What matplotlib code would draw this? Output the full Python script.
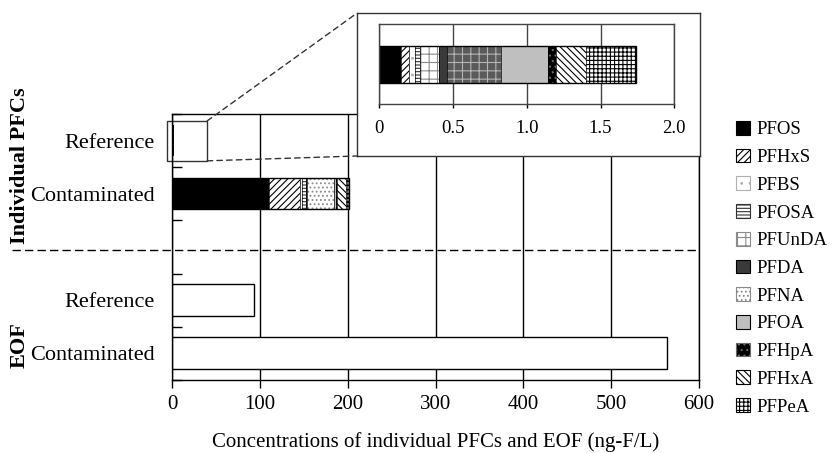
import matplotlib.pyplot as plt
import matplotlib.patches as mpatches
import matplotlib.transforms as mtransforms
from matplotlib.patches import ConnectionPatch, Rectangle

plt.rcParams['font.family'] = ['Liberation Serif', 'DejaVu Serif']
plt.rcParams['hatch.linewidth'] = 0.8

# data
compounds = ['PFOS', 'PFHxS', 'PFBS', 'PFOSA', 'PFUnDA', 'PFDA',
             'PFNA', 'PFOA', 'PFHpA', 'PFHxA', 'PFPeA']
pfc_reference = [0.149, 0.050, 0.045, 0.034, 0.129, 0.052,
                 0.367, 0.317, 0.057, 0.201, 0.338]
pfc_contaminated = [110.3, 35.0, 1.9, 4.6, 0.6, 0.5,
                    31.1, 2.3, 1.5, 10.5, 3.0]
eof_values = [93, 563]
row_labels = ['Reference', 'Contaminated', '', 'Reference', 'Contaminated']
group_labels = ['Individual PFCs', 'EOF']
main_ticks = [0, 100, 200, 300, 400, 500, 600]
inset_ticks = [0, 0.5, 1.0, 1.5, 2.0]
inset_ticklabels = ['0', '0.5', '1.0', '1.5', '2.0']
xlabel = 'Concentrations of individual PFCs and EOF (ng-F/L)'

# face colour, hatch, hatch colour
styles = {
    'PFOS': ('black', '', 'black'),
    'PFHxS': ('white', '/////', 'black'),
    'PFBS': ('white', '..', '#b0b0b0'),
    'PFOSA': ('white', '-----', '#333333'),
    'PFUnDA': ('white', '++', '#8a8a8a'),
    'PFDA': ('#3a3a3a', '', 'black'),
    'PFNA': ('white', '....', '#8a8a8a'),
    'PFOA': ('#bfbfbf', '', 'black'),
    'PFHpA': ('black', '...', '#6a6a6a'),
    'PFHxA': ('white', '\\\\\\\\\\', 'black'),
    'PFPeA': ('white', '++++', 'black'),
}
# the small inset renders PFNA as a darker plaid
inset_styles = dict(styles, PFNA=('#5a5a5a', '++', '#b5b5b5'))

HAS_HC = hasattr(mpatches.Patch, 'set_hatchcolor')


def stacked_bar(ax, y, values, height, style, seg_lw=0.5, outline_lw=1.0):
    left = 0
    for name, v in zip(compounds, values):
        face, hatch, hc = style[name]
        if HAS_HC:
            ax.barh(y, v, height, left=left, color=face, hatch=hatch,
                    edgecolor='black', hatchcolor=hc, linewidth=seg_lw)
        else:
            ax.barh(y, v, height, left=left, color=face, hatch=hatch,
                    edgecolor=hc, linewidth=0)
            ax.barh(y, v, height, left=left, fill=False,
                    edgecolor='black', linewidth=seg_lw)
        left += v
    if outline_lw > 0:
        ax.barh(y, left, height, fill=False, edgecolor='black',
                linewidth=outline_lw)


fig = plt.figure(figsize=(8.36, 4.53), dpi=100)
ax = fig.add_axes([0.2063, 0.1611, 0.6298, 0.5872])

rows = [0.5, 1.5, 2.5, 3.5, 4.5]
stacked_bar(ax, rows[0], pfc_reference, 0.58, styles, seg_lw=0, outline_lw=0)
stacked_bar(ax, rows[1], pfc_contaminated, 0.58, styles)
ax.barh(rows[3:], eof_values, 0.6, color='white', edgecolor='black',
        linewidth=1.0)

ax.set_xlim(0, 600)
ax.set_ylim(5, 0)
ax.set_xticks(main_ticks)
ax.set_xticklabels([str(t) for t in main_ticks])
ax.set_yticks(range(6))
ax.set_yticklabels([])
ax.set_yticks(rows, minor=True)
ax.set_yticklabels(row_labels, minor=True, fontsize=16)
ax.tick_params(axis='y', which='major', direction='in', length=7, width=1)
ax.tick_params(axis='y', which='minor', length=0, pad=12.5)
ax.tick_params(axis='x', direction='out', length=6, width=1, labelsize=15,
               pad=5)
ax.xaxis.grid(True, color='black', linewidth=1.0)
ax.set_axisbelow(True)
for s in ax.spines.values():
    s.set_linewidth(1.0)
ax.set_xlabel(xlabel, fontsize=15, labelpad=13)

# separator between the two groups
ax.axhline(2.55, xmin=-0.305, xmax=1.0, color='black', linewidth=1.0,
           dashes=(6, 3), clip_on=False)

blend = mtransforms.blended_transform_factory(ax.transAxes, ax.transData)
ax.text(-0.29, 0.97, group_labels[0], rotation=90, fontsize=16,
        fontweight='bold', ha='center', va='center', transform=blend)
ax.text(-0.29, 4.35, group_labels[1], rotation=90, fontsize=16,
        fontweight='bold', ha='center', va='center', transform=blend)

# zoom window around the reference bar
ax.add_patch(Rectangle((-6, 0.13), 45.5, 0.75, fill=False,
                       edgecolor='#333333', linewidth=1.0, clip_on=False))

# inset frame
box = fig.add_axes([0.4267, 0.6556, 0.4106, 0.3150])
box.set_xticks([])
box.set_yticks([])
box.set_facecolor('white')
for s in box.spines.values():
    s.set_linewidth(1.0)
    s.set_color('#333333')

ins = fig.add_axes([0.4537, 0.7698, 0.3529, 0.1766])
stacked_bar(ins, 0.5, pfc_reference, 0.46, inset_styles)
ins.set_xlim(0, 2)
ins.set_ylim(0, 1)
ins.set_yticks([])
ins.set_xticks(inset_ticks)
ins.set_xticklabels(inset_ticklabels)
ins.tick_params(axis='x', direction='out', length=3, width=1, labelsize=13.5,
                pad=8)
ins.xaxis.grid(True, color='#444444', linewidth=1.0)
ins.set_axisbelow(True)
for s in ins.spines.values():
    s.set_color('#444444')
    s.set_linewidth(1.0)

for corner_a, corner_b in [((39.5, 0.13), (0, 1)), ((39.5, 0.88), (0, 0))]:
    con = ConnectionPatch(xyA=corner_a, coordsA=ax.transData,
                          xyB=corner_b, coordsB=box.transAxes,
                          color='#333333', linewidth=1.0,
                          linestyle=(0, (4, 3)))
    fig.add_artist(con)

# legend
handles = []
for name in compounds:
    face, hatch, hc = styles[name]
    if HAS_HC:
        handles.append(mpatches.Patch(facecolor=face, hatch=hatch,
                                      edgecolor='black', hatchcolor=hc,
                                      linewidth=0.8))
    else:
        handles.append(mpatches.Patch(facecolor=face, hatch=hatch,
                                      edgecolor=hc, linewidth=0.8))
fig.legend(handles, compounds, loc='upper left',
           bbox_to_anchor=(0.880, 0.733), frameon=False, fontsize=13.5,
           handlelength=0.75, handleheight=0.75, handletextpad=0.35,
           labelspacing=0.55, borderpad=0, borderaxespad=0)

fig.savefig('out.png', dpi=100)
